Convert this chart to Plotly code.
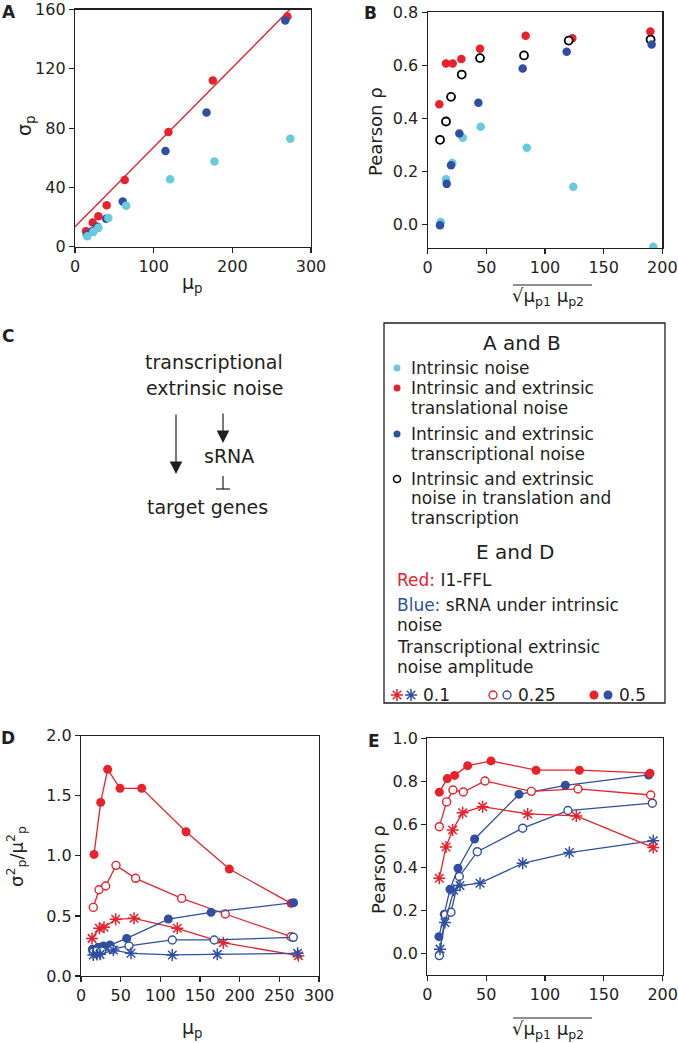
import plotly.graph_objects as go

# ---------------- data ----------------
# Panel A  (mu_p vs sigma_p)
A_cyan_x = [15.7, 23.3, 29.7, 42.4, 65.0, 120.9, 177.3, 273.7]
A_cyan_y = [7.1, 10.0, 12.7, 19.4, 27.7, 45.5, 57.5, 72.9]
A_red_x = [14.0, 22.5, 29.7, 40.3, 63.2, 118.8, 175.2, 270.0]
A_red_y = [10.5, 16.3, 20.5, 27.9, 45.0, 77.3, 112.1, 155.3]
A_blue_x = [15.0, 22.0, 28.5, 39.5, 60.7, 115.0, 167.2, 267.3]
A_blue_y = [8.0, 10.5, 13.5, 18.9, 30.5, 64.6, 90.5, 152.6]
A_fit_intercept = 13.4
A_fit_slope = 0.537
A_fit_x = [0, 285]

# Panel B  (sqrt(mu1 mu2) vs Pearson rho)
B_cyan_x = [11.1, 15.6, 21.0, 29.9, 45.2, 84.5, 124.1, 192.3]
B_cyan_y = [0.009, 0.170, 0.232, 0.327, 0.368, 0.289, 0.142, -0.084]
B_blue_x = [10.5, 16.2, 19.9, 27.0, 43.2, 81.0, 118.5, 190.9]
B_blue_y = [-0.003, 0.153, 0.223, 0.343, 0.459, 0.588, 0.651, 0.678]
B_red_x = [9.9, 15.6, 21.3, 28.7, 44.6, 83.5, 123.3, 189.8]
B_red_y = [0.453, 0.607, 0.607, 0.624, 0.662, 0.711, 0.702, 0.727]
B_open_x = [10.5, 15.6, 19.9, 29.0, 44.6, 82.1, 120.2, 190.0]
B_open_y = [0.319, 0.388, 0.481, 0.565, 0.627, 0.637, 0.693, 0.697]

# Panel D  (mu_p vs sigma^2/mu^2)
D_red_05_x = [16.4, 24.8, 33.6, 49.2, 76.5, 132.4, 187.0, 264.7]
D_red_05_y = [1.012, 1.445, 1.720, 1.562, 1.562, 1.201, 0.890, 0.605]
D_red_025_x = [15.5, 22.7, 31.1, 44.1, 68.9, 126.9, 181.9, 264.7]
D_red_025_y = [0.571, 0.718, 0.749, 0.921, 0.813, 0.646, 0.516, 0.327]
D_red_01_x = [13.9, 23.1, 29.0, 43.7, 66.8, 121.4, 179.4, 274.0]
D_red_01_y = [0.313, 0.397, 0.405, 0.472, 0.480, 0.397, 0.277, 0.169]
D_blue_05_x = [14.3, 21.8, 28.2, 36.6, 57.6, 110.1, 163.9, 268.0]
D_blue_05_y = [0.222, 0.239, 0.250, 0.258, 0.313, 0.474, 0.530, 0.610]
D_blue_025_x = [15.5, 19.7, 26.0, 39.5, 60.5, 115.1, 168.0, 267.6]
D_blue_025_y = [0.200, 0.208, 0.208, 0.222, 0.250, 0.300, 0.300, 0.322]
D_blue_01_x = [15.5, 20.0, 24.0, 40.8, 63.0, 115.1, 171.8, 273.0]
D_blue_01_y = [0.175, 0.178, 0.180, 0.216, 0.189, 0.175, 0.180, 0.189]

# Panel E  (sqrt(mu1 mu2) vs Pearson rho)
E_red_05_x = [10.2, 17.0, 23.2, 34.3, 54.1, 92.4, 129.2, 189.2]
E_red_05_y = [0.750, 0.813, 0.828, 0.873, 0.895, 0.852, 0.852, 0.838]
E_red_025_x = [10.2, 16.4, 21.8, 30.6, 49.0, 88.4, 128.0, 189.8]
E_red_025_y = [0.590, 0.705, 0.760, 0.751, 0.802, 0.754, 0.765, 0.737]
E_red_01_x = [10.2, 15.9, 21.5, 30.0, 47.0, 85.3, 126.6, 192.0]
E_red_01_y = [0.351, 0.496, 0.575, 0.655, 0.683, 0.649, 0.640, 0.493]
E_blue_05_x = [9.9, 14.4, 19.3, 26.1, 40.2, 77.9, 117.3, 188.1]
E_blue_05_y = [0.080, 0.184, 0.300, 0.397, 0.533, 0.740, 0.782, 0.830]
E_blue_025_x = [10.2, 15.3, 20.1, 27.2, 42.5, 81.0, 119.5, 191.2]
E_blue_025_y = [-0.008, 0.181, 0.193, 0.359, 0.474, 0.583, 0.665, 0.699]
E_blue_01_x = [10.8, 15.0, 22.5, 27.8, 44.8, 81.0, 120.7, 192.0]
E_blue_01_y = [0.022, 0.145, 0.295, 0.317, 0.328, 0.420, 0.470, 0.525]

# tick labels
A_xticks = [0, 100, 200, 300]
A_yticks = [0, 40, 80, 120, 160]
B_xticks = [0, 50, 100, 150, 200]
B_yticks = [0.0, 0.2, 0.4, 0.6, 0.8]
D_xticks = [0, 50, 100, 150, 200, 250, 300]
D_yticks = [0.0, 0.5, 1.0, 1.5, 2.0]
E_xticks = [0, 50, 100, 150, 200]
E_yticks = [0.0, 0.2, 0.4, 0.6, 0.8, 1.0]

# ---------------- style ----------------
FONT = "DejaVu Sans"
RED = "#E8212B"
BLUE = "#2F4FA2"
CYAN = "#67CBDD"
BLACK = "#231F20"
WIDTH, HEIGHT = 678, 1043


def dom_x(a, b):
    return [a / WIDTH, b / WIDTH]


def dom_y(top, bottom):
    return [1 - bottom / HEIGHT, 1 - top / HEIGHT]


def axis_style(domain, rng, tickvals, fmt=None, anchor=None):
    d = dict(domain=domain, range=rng, tickvals=tickvals, showline=True,
             linecolor=BLACK, linewidth=1.2, mirror=True, ticks="outside",
             ticklen=5, tickwidth=1.2, tickcolor=BLACK, showgrid=False,
             zeroline=False, fixedrange=True, anchor=anchor, automargin=False,
             ticklabeloverflow="allow",
             tickfont=dict(family=FONT, size=16, color=BLACK))
    if fmt:
        d["tickformat"] = fmt
    return d


fig = go.Figure()


def dots(x, y, color, xa, ya, size=8.5):
    fig.add_trace(go.Scatter(x=x, y=y, mode="markers", xaxis=xa, yaxis=ya,
                             marker=dict(symbol="circle", size=size, color=color,
                                         line=dict(width=0)),
                             showlegend=False, hoverinfo="skip"))


def opens(x, y, color, xa, ya, size=8, lw=1.8):
    fig.add_trace(go.Scatter(x=x, y=y, mode="markers", xaxis=xa, yaxis=ya,
                             marker=dict(symbol="circle", size=size, color="white",
                                         line=dict(width=lw, color=color)),
                             showlegend=False, hoverinfo="skip"))


def series(x, y, color, kind, xa, ya):
    if kind == "filled":
        m = dict(symbol="circle", size=9, color=color, line=dict(width=0))
    elif kind == "open":
        m = dict(symbol="circle", size=8, color="white", line=dict(width=1.4, color=color))
    else:
        m = dict(symbol="asterisk", size=10, color=color, line=dict(width=1.5, color=color))
    fig.add_trace(go.Scatter(x=x, y=y, mode="lines+markers", xaxis=xa, yaxis=ya,
                             line=dict(color=color, width=1.3), marker=m,
                             showlegend=False, hoverinfo="skip"))


# Panel A
fit_y = [A_fit_intercept + A_fit_slope * v for v in A_fit_x]
fig.add_trace(go.Scatter(x=A_fit_x, y=fit_y, mode="lines", xaxis="x", yaxis="y",
                         line=dict(color=RED, width=1.4), showlegend=False, hoverinfo="skip"))
dots(A_red_x, A_red_y, RED, "x", "y")
dots(A_blue_x, A_blue_y, BLUE, "x", "y")
dots(A_cyan_x, A_cyan_y, CYAN, "x", "y")

# Panel B
dots(B_cyan_x, B_cyan_y, CYAN, "x2", "y2")
dots(B_red_x, B_red_y, RED, "x2", "y2")
opens(B_open_x, B_open_y, "black", "x2", "y2")
dots(B_blue_x, B_blue_y, BLUE, "x2", "y2")

# Panel D
series(D_red_05_x, D_red_05_y, RED, "filled", "x3", "y3")
series(D_red_025_x, D_red_025_y, RED, "open", "x3", "y3")
series(D_red_01_x, D_red_01_y, RED, "star", "x3", "y3")
series(D_blue_05_x, D_blue_05_y, BLUE, "filled", "x3", "y3")
series(D_blue_025_x, D_blue_025_y, BLUE, "open", "x3", "y3")
series(D_blue_01_x, D_blue_01_y, BLUE, "star", "x3", "y3")

# Panel E
series(E_blue_05_x, E_blue_05_y, BLUE, "filled", "x4", "y4")
series(E_blue_025_x, E_blue_025_y, BLUE, "open", "x4", "y4")
series(E_blue_01_x, E_blue_01_y, BLUE, "star", "x4", "y4")
series(E_red_05_x, E_red_05_y, RED, "filled", "x4", "y4")
series(E_red_025_x, E_red_025_y, RED, "open", "x4", "y4")
series(E_red_01_x, E_red_01_y, RED, "star", "x4", "y4")

# Legend key markers (overlay axis in pixel units)
key_dot_x = [397, 397, 397]
key_dot_y = [368, 388, 434]
key_dot_c = [CYAN, RED, BLUE]
fig.add_trace(go.Scatter(x=key_dot_x, y=key_dot_y, mode="markers", xaxis="x5", yaxis="y5",
                         marker=dict(symbol="circle", size=7, color=key_dot_c, line=dict(width=0)),
                         showlegend=False, hoverinfo="skip"))
fig.add_trace(go.Scatter(x=[397], y=[479], mode="markers", xaxis="x5", yaxis="y5",
                         marker=dict(symbol="circle", size=7, color="white",
                                     line=dict(width=1.5, color="black")),
                         showlegend=False, hoverinfo="skip"))
row_y = 695
fig.add_trace(go.Scatter(x=[397, 411], y=[row_y, row_y], mode="markers", xaxis="x5", yaxis="y5",
                         marker=dict(symbol="asterisk", size=10, color=[RED, BLUE],
                                     line=dict(width=1.5, color=[RED, BLUE])),
                         showlegend=False, hoverinfo="skip"))
fig.add_trace(go.Scatter(x=[493, 507], y=[row_y, row_y], mode="markers", xaxis="x5", yaxis="y5",
                         marker=dict(symbol="circle", size=8, color="white",
                                     line=dict(width=1.4, color=[RED, BLUE])),
                         showlegend=False, hoverinfo="skip"))
fig.add_trace(go.Scatter(x=[594, 608], y=[row_y, row_y], mode="markers", xaxis="x5", yaxis="y5",
                         marker=dict(symbol="circle", size=9, color=[RED, BLUE], line=dict(width=0)),
                         showlegend=False, hoverinfo="skip"))

# ---------------- annotations ----------------
ann = []


def txt(x, y, text, size=17, xanchor="center", color=BLACK, angle=0, bold=False):
    ann.append(dict(x=x, y=y, xref="x5", yref="y5", text=text, showarrow=False,
                    xanchor=xanchor, yanchor="middle", textangle=angle,
                    font=dict(family=FONT, size=size, color=color,
                              weight=("bold" if bold else "normal"))))


# panel letters
for lbl, x, y in [("A", 9, 12), ("B", 370, 13), ("C", 8, 336), ("D", 8, 738), ("E", 374, 741)]:
    txt(x, y, lbl, size=17, bold=True)

# axis titles
txt(25, 126, "σ<sub>p</sub>", size=19, angle=-90)
txt(192, 283, "μ<sub>p</sub>", size=19)
txt(375, 132, "Pearson ρ", size=18, angle=-90)
txt(548, 297, "√μ<sub>p1</sub> μ<sub>p2</sub>", size=18)
txt(16, 857, "σ<sup>2</sup><sub>p</sub>/μ<sup>2</sup><sub>p</sub>", size=18, angle=-90)
txt(192, 1028, "μ<sub>p</sub>", size=19)
txt(378, 870, "Pearson ρ", size=18, angle=-90)
txt(548, 1030, "√μ<sub>p1</sub> μ<sub>p2</sub>", size=18)

# panel C diagram
txt(214, 362, "transcriptional", size=19)
txt(214, 388, "extrinsic noise", size=19)
txt(229, 456, "sRNA", size=19)
txt(207, 507, "target genes", size=19)
ann.append(dict(x=176, y=474, ax=176, ay=413, xref="x5", yref="y5", axref="x5", ayref="y5",
                text="", showarrow=True, arrowhead=2, arrowsize=2.1, arrowwidth=1.2,
                arrowcolor=BLACK, standoff=0, startstandoff=0))
ann.append(dict(x=223, y=443, ax=223, ay=412, xref="x5", yref="y5", axref="x5", ayref="y5",
                text="", showarrow=True, arrowhead=2, arrowsize=2.1, arrowwidth=1.2,
                arrowcolor=BLACK, standoff=0, startstandoff=0))

# legend box text
txt(522, 343, "A and B", size=20)
LX = 409
for y, t in [(368, "Intrinsic noise"), (388, "Intrinsic and extrinsic"),
             (408, "translational noise"), (434, "Intrinsic and extrinsic"),
             (454, "transcriptional noise"), (479, "Intrinsic and extrinsic"),
             (498, "noise in translation and"), (518, "transcription")]:
    txt(LX, y, t, size=17, xanchor="left")
txt(515, 552, "E and D", size=20)
LX2 = 395
txt(LX2, 580, f"<span style='color:{RED}'>Red:</span> I1-FFL", size=17, xanchor="left")
txt(LX2, 605, f"<span style='color:{BLUE}'>Blue:</span> sRNA under intrinsic", size=17, xanchor="left")
txt(LX2, 625, "noise", size=17, xanchor="left")
txt(LX2, 647, "Transcriptional extrinsic", size=17, xanchor="left")
txt(LX2, 667, "noise amplitude", size=17, xanchor="left")
txt(421, row_y, "0.1", size=17, xanchor="left")
txt(516, row_y, "0.25", size=17, xanchor="left")
txt(617, row_y, "0.5", size=17, xanchor="left")

# ---------------- shapes ----------------
shapes = [
    # legend box
    dict(type="rect", xref="x5", yref="y5", x0=384, x1=665, y0=323, y1=703,
         line=dict(color=BLACK, width=1.3)),
    # overlines of sqrt labels
    dict(type="line", xref="x5", yref="y5", x0=513, x1=592, y0=285, y1=285,
         line=dict(color=BLACK, width=1.1)),
    dict(type="line", xref="x5", yref="y5", x0=513, x1=592, y0=1018, y1=1018,
         line=dict(color=BLACK, width=1.1)),
    # inhibition arrow (T-bar)
    dict(type="line", xref="x5", yref="y5", x0=223, x1=223, y0=476, y1=489,
         line=dict(color=BLACK, width=1.2)),
    dict(type="line", xref="x5", yref="y5", x0=216, x1=230, y0=489, y1=489,
         line=dict(color=BLACK, width=1.2)),
]

fig.update_layout(
    template="none",
    width=WIDTH, height=HEIGHT, autosize=False,
    margin=dict(l=0, r=0, t=0, b=0, pad=0),
    paper_bgcolor="white", plot_bgcolor="rgba(0,0,0,0)",
    showlegend=False,
    font=dict(family=FONT, color=BLACK, size=16),
    xaxis=axis_style(dom_x(75, 311), [0, 300], A_xticks, anchor="y"),
    yaxis=axis_style(dom_y(9.5, 246.7), [0, 160], A_yticks, anchor="x"),
    xaxis2=axis_style(dom_x(427.7, 662.3), [0, 200], B_xticks, anchor="y2"),
    yaxis2=axis_style(dom_y(12.2, 248), [-0.0887, 0.8], B_yticks, fmt=".1f", anchor="x2"),
    xaxis3=axis_style(dom_x(81, 319), [0, 300], D_xticks, anchor="y3"),
    yaxis3=axis_style(dom_y(735.7, 976), [0, 2.0], D_yticks, fmt=".1f", anchor="x3"),
    xaxis4=axis_style(dom_x(427.3, 662.7), [0, 200], E_xticks, anchor="y4"),
    yaxis4=axis_style(dom_y(738.3, 975), [-0.098, 1.0], E_yticks, fmt=".1f", anchor="x4"),
    xaxis5=dict(domain=[0, 1], range=[0, WIDTH], visible=False, fixedrange=True,
                anchor="y5", automargin=False),
    yaxis5=dict(domain=[0, 1], range=[HEIGHT, 0], visible=False, fixedrange=True,
                anchor="x5", automargin=False),
    annotations=ann,
    shapes=shapes,
)

fig.write_html("out.html", config={"displayModeBar": False, "staticPlot": True},
               post_script="document.body.style.margin='0';document.body.style.overflow='hidden';")
